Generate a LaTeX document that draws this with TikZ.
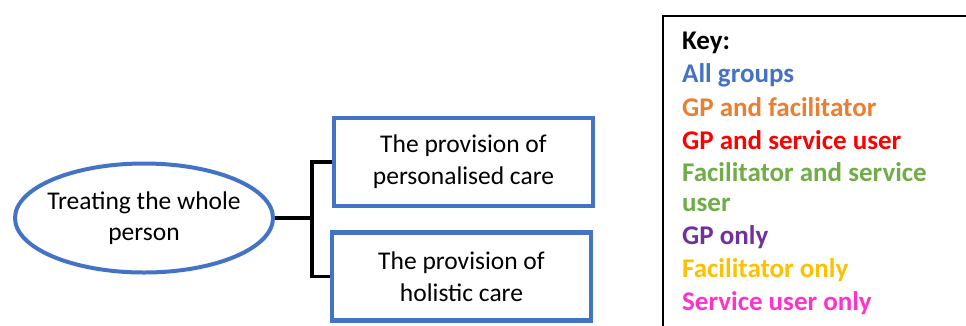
\documentclass[tikz,border=0pt]{standalone}
\usepackage{fontspec}
\setmainfont{Carlito}
\usetikzlibrary{shapes.geometric}
\definecolor{allblue}{HTML}{4472C4}
\definecolor{gpfac}{HTML}{ED7D31}
\definecolor{gpsu}{HTML}{FF0000}
\definecolor{facsu}{HTML}{70AD47}
\definecolor{gponly}{HTML}{7030A0}
\definecolor{faconly}{HTML}{FFC000}
\definecolor{suonly}{HTML}{FF33CC}
\tikzset{
	themebox/.style={draw=allblue, line width=4.5pt, minimum width=259pt, minimum height=88pt, inner sep=0pt, align=center, font=\fontsize{25.5}{32}\selectfont},
	keyline/.style={anchor=west, inner sep=0pt, font=\fontsize{27}{30}\selectfont\bfseries}
}
\begin{document}
\begin{tikzpicture}[x=1pt, y=-1pt]
\clip (0, 0) rectangle (966, 325);
\fill[white] (0, 0) rectangle (966, 325);

\node[ellipse, draw=allblue, line width=4pt, minimum width=258pt, minimum height=109pt, inner xsep=-8pt, inner ysep=0pt, align=center, font=\fontsize{25.5}{31}\selectfont] (whole) at (144, 218) {Treating the whole\\person};

\node[themebox] (personal) at (463.5, 162) {The provision of\\personalised care};
\node[themebox] (holistic) at (461.5, 276.5) {The provision of\\holistic care};

\draw[line width=3.5pt] (whole.east) -- ++(37, 0) coordinate (fork);
\draw[line width=3.5pt] (personal.west) -| (fork) |- (holistic.west);

\draw[line width=2pt] (663, 340) -- (663, 16) -- (980, 16);
\foreach \y/\c/\t [count=\i] in {43/black/Key:, 75/allblue/All groups, 107/gpfac/GP and facilitator, 140/gpsu/GP and service user, 172/facsu/Facilitator and service, 205/facsu/user, 237/gponly/GP only, 270/faconly/Facilitator only, 303/suonly/Service user only}
{
	\node[keyline, text=\c] (key-\i) at (682, \y) {\t};
}
\end{tikzpicture}
\end{document}
